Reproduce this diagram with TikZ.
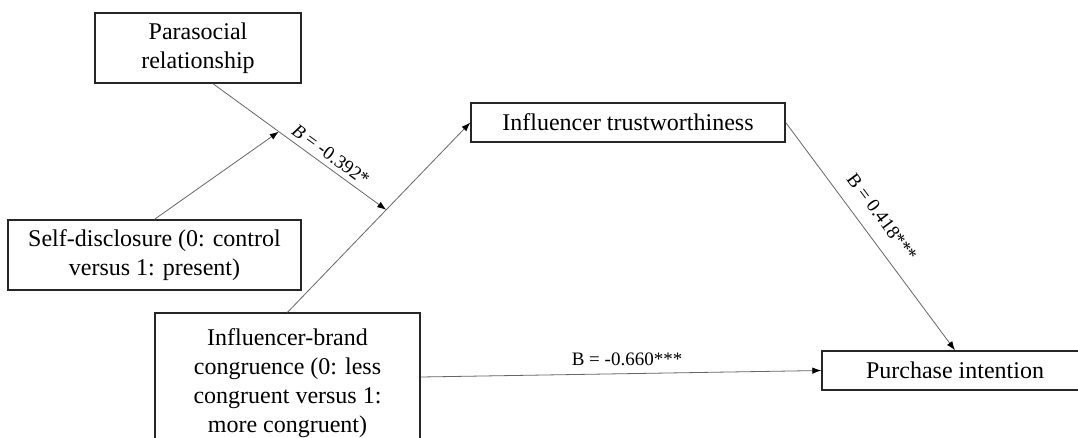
\documentclass[tikz,border=0pt]{standalone}
\usepackage{fontspec}
\setmainfont{Liberation Serif}
\usetikzlibrary{arrows.meta,calc}
\definecolor{boxline}{HTML}{262626}
\definecolor{pathline}{HTML}{666666}
\tikzset{
  varbox/.style={
    draw=boxline,
    line width=1.4pt,
    fill=white,
    align=center,
    inner sep=0pt,
    font=\fontsize{24}{29}\selectfont
  },
  arrow/.style={-{Latex[length=9pt,width=6.5pt,color=black]},line width=0.8pt,draw=pathline},
  coef/.style={font=\fontsize{19}{22}\selectfont,inner sep=2pt}
}

\begin{document}
\begin{tikzpicture}[x=1pt,y=-1pt]
  \clip (0,0) rectangle (1078,437);
  \fill[white] (0,0) rectangle (1078,437);

  \node[varbox, minimum width=206pt, minimum height=70pt] (parasocial) at (198,48) {Parasocial\\relationship};
  \node[varbox, minimum width=293pt, minimum height=70pt] (selfdisc) at (154.5,255) {Self-disclosure (0: control\\versus 1: present)};
  \node[varbox, minimum width=265pt, minimum height=140pt] (brand) at (287.5,383) {Influencer-brand\\congruence (0: less\\congruent versus 1:\\more congruent)};
  \node[varbox, minimum width=314pt, minimum height=39pt] (trust) at (628,122.5) {Influencer trustworthiness};
  \node[varbox, minimum width=266pt, minimum height=39pt] (purchase) at (955,370.5) {Purchase intention};

  % moderation paths
  \coordinate (meet) at ($(brand.north)!0.54!(trust.west)$);
  \coordinate (psstart) at ([xshift=15pt]parasocial.south);
  \coordinate (meet2) at ($(psstart)!0.38!(meet)$);

  \draw[arrow] (brand.north) -- (trust.west);
  \draw[arrow] (psstart) -- node[coef, sloped, above=3pt, pos=0.64] (bmod) {\textit{B} = -0.392*} (meet);
  \draw[arrow] (selfdisc.north) -- (meet2);

  % mediation and direct paths
  \draw[arrow] (trust.east) -- node[coef, sloped, above=12pt, pos=0.47] (btrust) {B = 0.418***} (purchase.north);
  \draw[arrow] ([yshift=6pt]brand.east) -- node[coef, above=5pt, pos=0.515] (bdirect) {B = -0.660***} (purchase.west);
\end{tikzpicture}
\end{document}
